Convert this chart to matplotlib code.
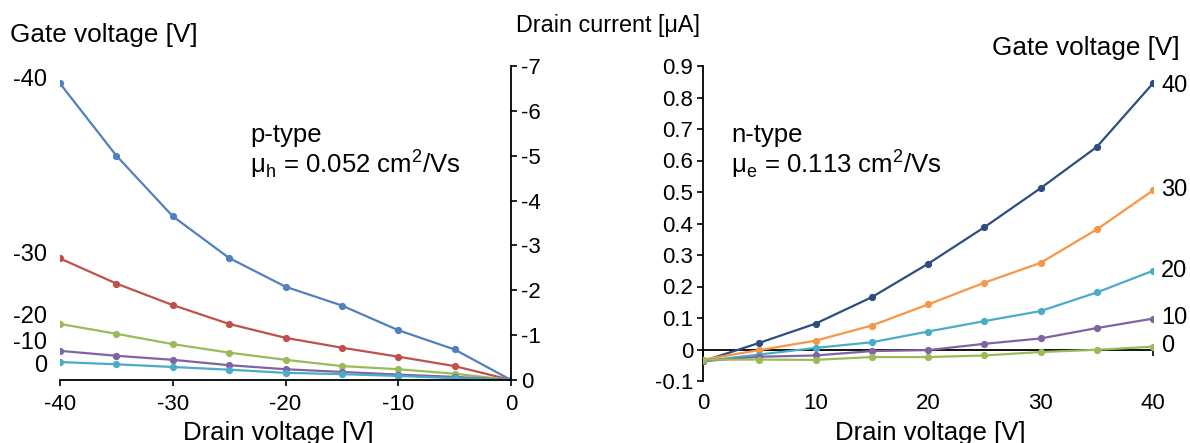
import matplotlib
matplotlib.use("Agg")
import matplotlib.pyplot as plt

plt.rcParams['font.family'] = ['Liberation Sans', 'DejaVu Sans']

# ---- data: p-type (left) ----
p_vd = [-40, -35, -30, -25, -20, -15, -10, -5, 0]
p_vg_labels = ["-40", "-30", "-20", "-10", "0"]
p_id_m40 = [-6.61, -5.00, -3.65, -2.72, -2.08, -1.66, -1.11, -0.68, 0.0]
p_id_m30 = [-2.71, -2.15, -1.67, -1.25, -0.94, -0.72, -0.52, -0.31, 0.0]
p_id_m20 = [-1.25, -1.03, -0.80, -0.61, -0.45, -0.31, -0.24, -0.14, 0.0]
p_id_m10 = [-0.65, -0.54, -0.45, -0.33, -0.24, -0.18, -0.12, -0.07, 0.0]
p_id_0 = [-0.40, -0.35, -0.29, -0.23, -0.16, -0.13, -0.09, -0.04, 0.0]
p_label_y = [-6.69, -2.79, -1.40, -0.82, -0.31]
p_xticks = [-40, -30, -20, -10, 0]
p_yticks = [0, -1, -2, -3, -4, -5, -6, -7]

# ---- data: n-type (right) ----
n_vd = [0, 5, 10, 15, 20, 25, 30, 35, 40]
n_vg_labels = ["40", "30", "20", "10", "0"]
n_id_40 = [-0.037, 0.021, 0.082, 0.166, 0.272, 0.388, 0.512, 0.643, 0.845]
n_id_30 = [-0.032, -0.002, 0.028, 0.076, 0.143, 0.212, 0.275, 0.381, 0.505]
n_id_20 = [-0.037, -0.016, 0.005, 0.023, 0.057, 0.090, 0.122, 0.181, 0.250]
n_id_10 = [-0.037, -0.023, -0.019, -0.005, -0.002, 0.018, 0.035, 0.068, 0.098]
n_id_0 = [-0.032, -0.032, -0.033, -0.024, -0.024, -0.019, -0.008, -0.001, 0.009]
n_label_y = [0.835, 0.505, 0.250, 0.100, 0.010]
n_xticks = [0, 10, 20, 30, 40]
n_yticks = [-0.1, 0, 0.1, 0.2, 0.3, 0.4, 0.5, 0.6, 0.7, 0.8, 0.9]

p_colors = ["#4F81BD", "#C0504D", "#9BBB59", "#8064A2", "#4BACC6"]
n_colors = ["#2E4D7F", "#F79646", "#4BACC6", "#8064A2", "#9BBB59"]

W, H = 1190, 443
fig = plt.figure(figsize=(W / 100, H / 100), dpi=100)

TICK_FS = 16
VAL_FS = 17
TXT_FS = 18.5

# ---------------- left axes ----------------
axL = fig.add_axes([60 / W, (H - 380) / H, 451 / W, 314 / H])
p_series = [p_id_m40, p_id_m30, p_id_m20, p_id_m10, p_id_0]
for ys, c in zip(p_series, p_colors):
    axL.plot(p_vd, ys, color=c, lw=1.6, marker='o', ms=4.2, mec=c, mfc=c)
axL.set_xlim(-40, 0)
axL.set_ylim(0, -7)
axL.yaxis.tick_right()
axL.set_yticks(p_yticks)
axL.set_yticklabels([str(v) for v in p_yticks])
axL.set_xticks(p_xticks)
axL.set_xticklabels([str(v) for v in p_xticks])
axL.spines['left'].set_visible(False)
axL.spines['top'].set_visible(False)
for s in ['right', 'bottom']:
    axL.spines[s].set_color('black')
    axL.spines[s].set_linewidth(1.3)
axL.tick_params(axis='both', labelsize=TICK_FS, direction='out', length=4, width=1.2, color='black')
axL.tick_params(axis='y', pad=3)
axL.tick_params(axis='x', pad=6)
axL.set_facecolor('none')
for lab, ly in zip(p_vg_labels, p_label_y):
    axL.annotate(lab, xy=(-40, ly), xytext=(-9, 0), textcoords='offset points',
                 ha='right', va='center', fontsize=VAL_FS)

# ---------------- right axes ----------------
axR = fig.add_axes([703 / W, (H - 381) / H, 450 / W, 315 / H])
n_series = [n_id_40, n_id_30, n_id_20, n_id_10, n_id_0]
for ys, c in zip(n_series, n_colors):
    axR.plot(n_vd, ys, color=c, lw=1.6, marker='o', ms=4.2, mec=c, mfc=c, zorder=3)
axR.set_xlim(0, 40)
axR.set_ylim(-0.1, 0.9)
axR.set_yticks(n_yticks)
axR.set_yticklabels(["-0.1" if v < 0 else ("0" if v == 0 else f"{v:.1f}") for v in n_yticks])
axR.set_xticks(n_xticks)
axR.set_xticklabels([str(v) for v in n_xticks])
axR.spines['top'].set_visible(False)
axR.spines['right'].set_visible(False)
axR.spines['bottom'].set_position(('data', 0))
for s in ['left', 'bottom']:
    axR.spines[s].set_color('black')
    axR.spines[s].set_linewidth(1.3)
axR.spines['bottom'].set_zorder(2)
axR.tick_params(axis='both', labelsize=TICK_FS, direction='out', length=4, width=1.2, color='black')
axR.tick_params(axis='y', pad=3)
axR.tick_params(axis='x', pad=27.5)
axR.set_facecolor('none')
for lab, ly in zip(n_vg_labels, n_label_y):
    axR.annotate(lab, xy=(40, ly), xytext=(6, 0), textcoords='offset points',
                 ha='left', va='center', fontsize=VAL_FS)

# ---------------- free texts ----------------
fig.text(278 / W, (H - 440) / H, "Drain voltage [V]", fontsize=TXT_FS, ha='center', va='baseline')
fig.text(930 / W, (H - 440) / H, "Drain voltage [V]", fontsize=TXT_FS, ha='center', va='baseline')

fig.text(10 / W, (H - 42) / H, "Gate voltage [V]", fontsize=18.8, ha='left', va='baseline')
fig.text(516 / W, (H - 32) / H, "Drain current [μA]", fontsize=16.8, ha='left', va='baseline')
fig.text(1180 / W, (H - 55) / H, "Gate voltage [V]", fontsize=18.8, ha='right', va='baseline')

fig.text(250 / W, (H - 142) / H, "p-type", fontsize=TXT_FS, ha='left', va='baseline')
fig.text(250 / W, (H - 173) / H, "μ$_\\mathregular{h}$ = 0.052 cm$^\\mathregular{2}$/Vs",
         fontsize=TXT_FS, ha='left', va='baseline')
fig.text(731 / W, (H - 142) / H, "n-type", fontsize=TXT_FS, ha='left', va='baseline')
fig.text(731 / W, (H - 173) / H, "μ$_\\mathregular{e}$ = 0.113 cm$^\\mathregular{2}$/Vs",
         fontsize=TXT_FS, ha='left', va='baseline')

fig.savefig("out.png", dpi=100)
